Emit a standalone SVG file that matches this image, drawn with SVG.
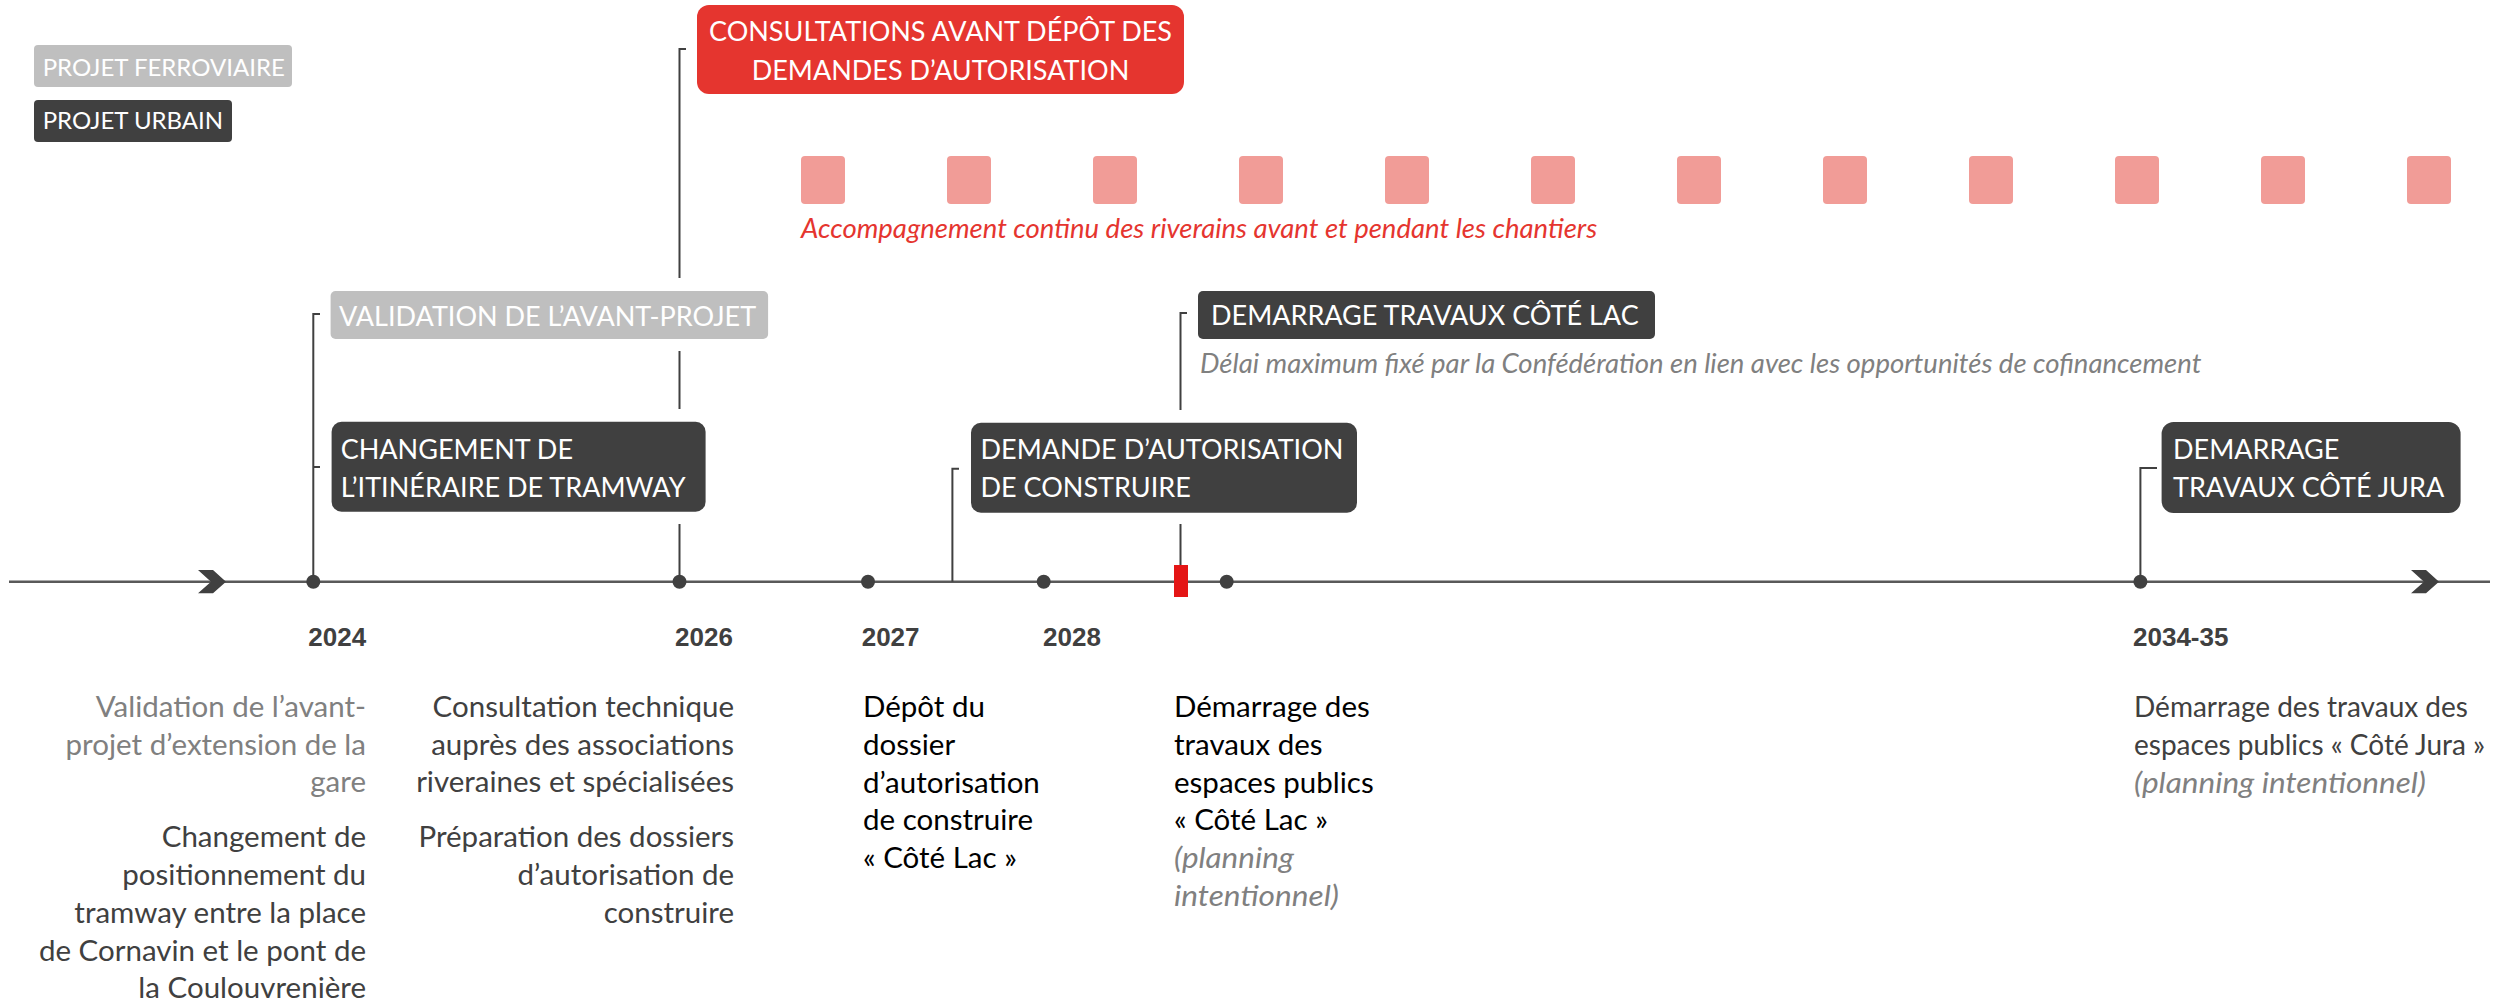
<svg xmlns="http://www.w3.org/2000/svg" width="2514" height="1006" viewBox="0 0 2514 1006">
<style>
.bg{fill:#ffffff}
.bdark{fill:#404040}
.bgray{fill:#bfbfbf}
.bred{fill:#e5352f}
.pink{fill:#f19c97}
.bt{font-family:Lato,"Open Sans","Liberation Sans",sans-serif;font-size:27px;fill:#ffffff}
.lg{font-family:Lato,"Open Sans","Liberation Sans",sans-serif;font-size:24px;fill:#ffffff}
.yr{font-family:"Liberation Sans",Arial,sans-serif;font-weight:bold;font-size:26px;fill:#404040}
.tx{font-family:Lato,"Open Sans","Liberation Sans",sans-serif;font-size:29.5px}
.tx5{font-family:Lato,"Open Sans","Liberation Sans",sans-serif;font-size:28px}
.it{font-family:Lato,"Open Sans","Liberation Sans",sans-serif;font-size:27.5px;font-style:italic}
.itp{font-family:Lato,"Open Sans","Liberation Sans",sans-serif;font-size:29px;font-style:italic}
.gry{fill:#808080}
.dk{fill:#404040}
.blk{fill:#000000}
.redt{fill:#e5352f}
.conn{stroke:#404040;stroke-width:2;fill:none}
.axis{stroke:#595959;stroke-width:2.5;fill:none}
.dot{fill:#404040}
.chev{fill:#404040}
</style>
<rect class="bg" x="0" y="0" width="2514" height="1006"/>

<g id="connectors">
  <line class="axis" x1="9" y1="581.7" x2="2490" y2="581.7"/>
  <polygon class="chev" points="198,570 213,570 226,581.7 213,593.3 198,593.3 211,581.7"/>
  <polygon class="chev" points="2411,570 2426,570 2439,581.7 2426,593.3 2411,593.3 2424,581.7"/>
  <path class="conn" d="M313.3,581.7 V314 H320 M313.3,467 H320"/>
  <path class="conn" d="M679.5,581.7 V524 M679.5,409 V351 M679.5,278 V49 H686"/>
  <path class="conn" d="M952.4,581.7 V468.7 H959"/>
  <path class="conn" d="M1180.5,565 V524 M1180.5,410 V313 H1187"/>
  <path class="conn" d="M2140.4,581.7 V468 H2157"/>
  <circle class="dot" cx="313.3" cy="581.7" r="7"/>
  <circle class="dot" cx="679.5" cy="581.7" r="7"/>
  <circle class="dot" cx="868" cy="581.7" r="7"/>
  <circle class="dot" cx="1043.7" cy="581.7" r="7"/>
  <circle class="dot" cx="1226.7" cy="581.7" r="7"/>
  <circle class="dot" cx="2140.4" cy="581.7" r="7"/>
  <rect x="1174" y="565" width="14" height="32" fill="#e41515"/>
</g>

<g id="legend-ferroviaire">
  <rect class="bgray" x="34" y="45" width="258" height="42" rx="4"/>
  <text class="lg" x="42.7" y="75.7">PROJET FERROVIAIRE</text>
</g>
<g id="legend-urbain">
  <rect class="bdark" x="34" y="100" width="198" height="42" rx="4"/>
  <text class="lg" x="42.7" y="129">PROJET URBAIN</text>
</g>

<g id="consultations">
  <rect class="bred" x="697" y="5" width="487" height="89" rx="12"/>
  <text class="bt" x="940.5" y="40.7" text-anchor="middle">CONSULTATIONS AVANT DÉPÔT DES</text>
  <text class="bt" x="940.5" y="80" text-anchor="middle">DEMANDES D’AUTORISATION</text>
</g>

<g id="accompagnement">
  <rect class="pink" x="801" y="156" width="44" height="48" rx="4"/>
  <rect class="pink" x="947" y="156" width="44" height="48" rx="4"/>
  <rect class="pink" x="1093" y="156" width="44" height="48" rx="4"/>
  <rect class="pink" x="1239" y="156" width="44" height="48" rx="4"/>
  <rect class="pink" x="1385" y="156" width="44" height="48" rx="4"/>
  <rect class="pink" x="1531" y="156" width="44" height="48" rx="4"/>
  <rect class="pink" x="1677" y="156" width="44" height="48" rx="4"/>
  <rect class="pink" x="1823" y="156" width="44" height="48" rx="4"/>
  <rect class="pink" x="1969" y="156" width="44" height="48" rx="4"/>
  <rect class="pink" x="2115" y="156" width="44" height="48" rx="4"/>
  <rect class="pink" x="2261" y="156" width="44" height="48" rx="4"/>
  <rect class="pink" x="2407" y="156" width="44" height="48" rx="4"/>
  <text class="it redt" x="801" y="238">Accompagnement continu des riverains avant et pendant les chantiers</text>
</g>

<g id="validation">
  <rect class="bgray" x="330.6" y="291" width="437.5" height="48" rx="5"/>
  <text class="bt" x="339" y="326">VALIDATION DE L’AVANT-PROJET</text>
</g>

<g id="changement">
  <rect class="bdark" x="331.6" y="421.7" width="374" height="90" rx="10"/>
  <text class="bt" x="340.7" y="459">CHANGEMENT DE</text>
  <text class="bt" x="340.7" y="497">L’ITINÉRAIRE DE TRAMWAY</text>
</g>

<g id="demande">
  <rect class="bdark" x="971" y="422.7" width="386" height="90" rx="10"/>
  <text class="bt" x="980.5" y="459">DEMANDE D’AUTORISATION</text>
  <text class="bt" x="980.5" y="497">DE CONSTRUIRE</text>
</g>

<g id="demarrage-lac">
  <rect class="bdark" x="1198" y="291" width="457" height="48" rx="5"/>
  <text class="bt" x="1211" y="325">DEMARRAGE TRAVAUX CÔTÉ LAC</text>
  <text class="it gry" x="1200" y="373">Délai maximum fixé par la Confédération en lien avec les opportunités de cofinancement</text>
</g>

<g id="demarrage-jura">
  <rect class="bdark" x="2161.6" y="422" width="299" height="91" rx="12"/>
  <text class="bt" x="2173" y="459">DEMARRAGE</text>
  <text class="bt" x="2173" y="497">TRAVAUX CÔTÉ JURA</text>
</g>

<g id="year-2024">
  <text class="yr" x="308.3" y="646">2024</text>
  <text class="tx gry" text-anchor="end" x="366" y="716.7">Validation de l’avant-</text>
  <text class="tx gry" text-anchor="end" x="366" y="754.5">projet d’extension de la</text>
  <text class="tx gry" text-anchor="end" x="366" y="792">gare</text>
  <text class="tx dk" text-anchor="end" x="366" y="847">Changement de</text>
  <text class="tx dk" text-anchor="end" x="366" y="885">positionnement du</text>
  <text class="tx dk" text-anchor="end" x="366" y="923">tramway entre la place</text>
  <text class="tx dk" text-anchor="end" x="366" y="961">de Cornavin et le pont de</text>
  <text class="tx dk" text-anchor="end" x="366" y="998">la Coulouvrenière</text>
</g>

<g id="year-2026">
  <text class="yr" x="675" y="646">2026</text>
  <text class="tx dk" text-anchor="end" x="734" y="716.7">Consultation technique</text>
  <text class="tx dk" text-anchor="end" x="734" y="754.5">auprès des associations</text>
  <text class="tx dk" text-anchor="end" x="734" y="792">riveraines et spécialisées</text>
  <text class="tx dk" text-anchor="end" x="734" y="847">Préparation des dossiers</text>
  <text class="tx dk" text-anchor="end" x="734" y="885">d’autorisation de</text>
  <text class="tx dk" text-anchor="end" x="734" y="923">construire</text>
</g>

<g id="year-2027">
  <text class="yr" x="861.7" y="646">2027</text>
  <text class="tx blk" x="863" y="717">Dépôt du</text>
  <text class="tx blk" x="863" y="755">dossier</text>
  <text class="tx blk" x="863" y="793">d’autorisation</text>
  <text class="tx blk" x="863" y="830">de construire</text>
  <text class="tx blk" x="863" y="868">« Côté Lac »</text>
</g>

<g id="year-2028">
  <text class="yr" x="1043" y="646">2028</text>
  <text class="tx blk" x="1174" y="717">Démarrage des</text>
  <text class="tx blk" x="1174" y="755">travaux des</text>
  <text class="tx blk" x="1174" y="793">espaces publics</text>
  <text class="tx blk" x="1174" y="830">« Côté Lac »</text>
  <text class="itp gry" x="1174" y="868" textLength="120" lengthAdjust="spacingAndGlyphs">(planning</text>
  <text class="itp gry" x="1174" y="906" textLength="165" lengthAdjust="spacingAndGlyphs">intentionnel)</text>
</g>

<g id="year-2034">
  <text class="yr" x="2133" y="646">2034-35</text>
  <text class="tx5 dk" x="2134" y="717">Démarrage des travaux des</text>
  <text class="tx5 dk" x="2134" y="755">espaces publics « Côté Jura »</text>
  <text class="itp gry" x="2134" y="793" textLength="292" lengthAdjust="spacingAndGlyphs">(planning intentionnel)</text>
</g>
</svg>
